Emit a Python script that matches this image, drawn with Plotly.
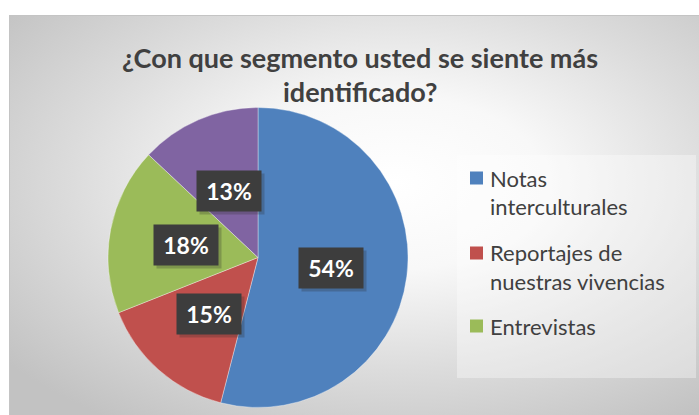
import math
import base64
import plotly.graph_objects as go

# ---- data ----
categories = ["Notas interculturales", "Reportajes de nuestras vivencias", "Entrevistas", "Otros"]
values = [54, 15, 18, 13]
legend_lines = [["Notas", "interculturales"], ["Reportajes de", "nuestras vivencias"], ["Entrevistas"]]
colors = ["#4F81BD", "#C0504D", "#9BBB59", "#8064A2"]
title_lines = ["¿Con que segmento usted se siente más", "identificado?"]

# ---- layout constants (pixels) ----
W, H = 699, 415
CX, CY, R = 258, 257.5, 150
FONT = "Lato"

def px_x(x):
    return x / W

def px_y(y):
    return (H - y) / H

fig = go.Figure()
fig.add_trace(go.Pie(
    labels=categories,
    values=values,
    sort=False,
    direction="clockwise",
    rotation=0,
    marker=dict(colors=colors, line=dict(color="rgba(255,255,255,0.6)", width=0.6)),
    textinfo="none",
    hoverinfo="label+percent",
    showlegend=False,
    domain=dict(x=[px_x(CX - R), px_x(CX + R)], y=[px_y(CY + R), px_y(CY - R)]),
))

# gradient background
svg = (
    '<svg xmlns="http://www.w3.org/2000/svg" width="690" height="400" viewBox="0 0 690 400">'
    '<defs><radialGradient id="g" cx="56%" cy="42%" r="72%">'
    '<stop offset="0" stop-color="#ffffff"/>'
    '<stop offset="0.3" stop-color="#f8f8f8"/>'
    '<stop offset="0.65" stop-color="#dcdcdc"/>'
    '<stop offset="1" stop-color="#c2c2c2"/>'
    '</radialGradient></defs>'
    '<rect width="690" height="400" fill="url(#g)"/></svg>'
)
src = "data:image/svg+xml;base64," + base64.b64encode(svg.encode()).decode()

shapes = []
annotations = []

# legend box
shapes.append(dict(type="rect", xref="paper", yref="paper",
                   x0=px_x(457), x1=px_x(696), y0=px_y(378), y1=px_y(155),
                   fillcolor="rgba(255,255,255,0.35)", line=dict(width=0), layer="below"))
# frame edge
shapes.append(dict(type="rect", xref="paper", yref="paper",
                   x0=px_x(9.5), x1=px_x(700), y0=px_y(416), y1=px_y(15.5),
                   fillcolor="rgba(0,0,0,0)", line=dict(color="#c4c4c4", width=1), layer="below"))

# title lines
title_y = [58, 92]
for t, ty in zip(title_lines, title_y):
    annotations.append(dict(xref="paper", yref="paper", x=px_x(360), y=px_y(ty),
                            xanchor="center", yanchor="middle", text=f"<b>{t}</b>", showarrow=False,
                            font=dict(family=FONT, size=27, color="#404040")))

# legend entries
entry_tops = [178, 253, 326]
line_gap = 28.5
for i, lines in enumerate(legend_lines):
    y0 = entry_tops[i]
    shapes.append(dict(type="rect", xref="paper", yref="paper",
                       x0=px_x(470), x1=px_x(483), y0=px_y(y0 + 6.5), y1=px_y(y0 - 6.5),
                       fillcolor=colors[i], line=dict(width=0)))
    for j, ln in enumerate(lines):
        annotations.append(dict(xref="paper", yref="paper", x=px_x(488), y=px_y(y0 + j * line_gap),
                                xanchor="left", yanchor="middle", text=ln, showarrow=False,
                                font=dict(family=FONT, size=22, color="#404040")))

# data labels
total = sum(values)
cum = 0
for v in values:
    theta = math.radians(360 * (cum + v / 2) / total)
    cum += v
    lx = CX + 0.49 * R * math.sin(theta)
    ly = CY - 0.49 * R * math.cos(theta) + 1
    txt = f"{v / total * 100:.0f}%"
    annotations.append(dict(xref="paper", yref="paper", x=px_x(lx), y=px_y(ly), text=" ",
                            xanchor="center", yanchor="middle",
                            showarrow=False, width=62, height=38, borderpad=1, xshift=3, yshift=-3,
                            bgcolor="rgba(40,40,40,0.25)", font=dict(size=20)))
    annotations.append(dict(xref="paper", yref="paper", x=px_x(lx), y=px_y(ly), text=f"<b>{txt}</b>",
                            xanchor="center", yanchor="middle",
                            showarrow=False, width=62, height=38, borderpad=1,
                            bgcolor="#3d3d3d", font=dict(family=FONT, size=23, color="#ffffff")))

fig.update_layout(
    width=W, height=H,
    margin=dict(l=0, r=0, t=0, b=0),
    paper_bgcolor="#ffffff",
    plot_bgcolor="#ffffff",
    font=dict(family=FONT, color="#404040"),
    images=[dict(source=src, xref="paper", yref="paper", x=px_x(9), y=px_y(15),
                 sizex=690 / W, sizey=400 / H, xanchor="left", yanchor="top",
                 sizing="stretch", layer="below")],
    shapes=shapes,
    annotations=annotations,
    showlegend=False,
)

fig.write_html("out.html", config={"displayModeBar": False},
               post_script="document.body.style.margin='0';")
